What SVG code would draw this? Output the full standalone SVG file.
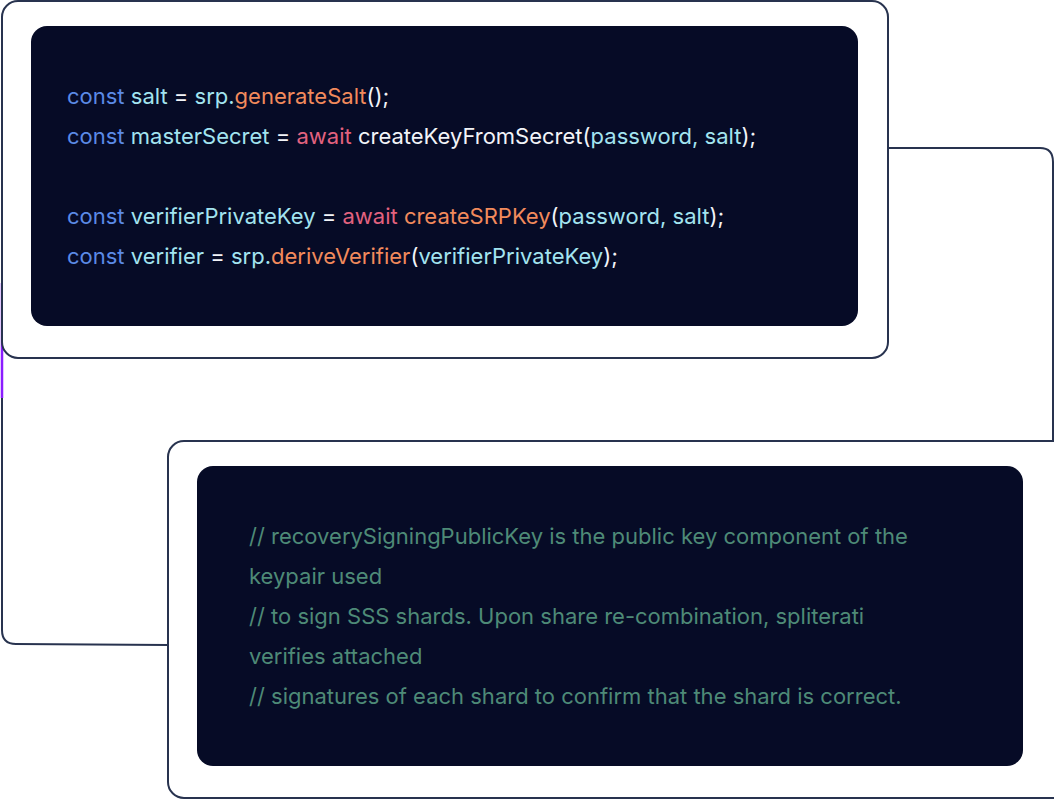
<svg xmlns="http://www.w3.org/2000/svg" width="1054" height="800" viewBox="0 0 1054 800">
<style>
.frame{fill:#fff;stroke:#28334f;stroke-width:2}
.code{fill:#060b26}
.conn{fill:none;stroke:#28334f;stroke-width:2}
text{font-family:Inter,"Liberation Sans",sans-serif;font-size:22px}
.k{fill:#5b8ae6}.v{fill:#a3e4f0}.f{fill:#f28a5c}.a{fill:#e2627f}.w{fill:#f2f4f8}.c{fill:#4e8a77}
</style>
<rect width="1054" height="800" fill="#fff"/>
<g id="connectors">
<path class="conn" d="M888 148 H1040 Q1053 148 1053 162 V452"/>
<path class="conn" d="M2 280 V630 Q2 644 16 644 L168 645"/>
<path d="M2 283 V398" stroke="#8b1cff" stroke-width="2.5" fill="none"/>
</g>
<g id="node-top">
<rect class="frame" x="2" y="1" width="886" height="357" rx="16"/>
<rect class="code" x="31" y="26" width="827" height="300" rx="16"/>
<text x="67" y="104" xml:space="preserve"><tspan class="k">const</tspan><tspan class="v"> salt </tspan><tspan class="w">= </tspan><tspan class="v">srp.</tspan><tspan class="f">generateSalt</tspan><tspan class="w">();</tspan></text>
<text x="67" y="144" xml:space="preserve"><tspan class="k">const</tspan><tspan class="v"> masterSecret </tspan><tspan class="w">= </tspan><tspan class="a">await</tspan><tspan class="w"> createKeyFromSecret(</tspan><tspan class="v">password, salt</tspan><tspan class="w">);</tspan></text>
<text x="67" y="224" xml:space="preserve"><tspan class="k">const</tspan><tspan class="v"> verifierPrivateKey </tspan><tspan class="w">= </tspan><tspan class="a">await</tspan><tspan class="f"> createSRPKey</tspan><tspan class="w">(</tspan><tspan class="v">password, salt</tspan><tspan class="w">);</tspan></text>
<text x="67" y="264" xml:space="preserve"><tspan class="k">const</tspan><tspan class="v"> verifier </tspan><tspan class="w">= </tspan><tspan class="v">srp.</tspan><tspan class="f">deriveVerifier</tspan><tspan class="w">(</tspan><tspan class="v">verifierPrivateKey</tspan><tspan class="w">);</tspan></text>
</g>
<g id="node-bottom">
<rect class="frame" x="168" y="441" width="900" height="357" rx="16"/>
<rect class="code" x="197" y="466" width="826" height="300" rx="16"/>
<g class="c">
<text x="249" y="544">// recoverySigningPublicKey is the public key component of the</text>
<text x="249" y="584">keypair used</text>
<text x="249" y="624">// to sign SSS shards. Upon share re-combination, spliterati</text>
<text x="249" y="664">verifies attached</text>
<text x="249" y="704">// signatures of each shard to confirm that the shard is correct.</text>
</g>
</g>
</svg>
